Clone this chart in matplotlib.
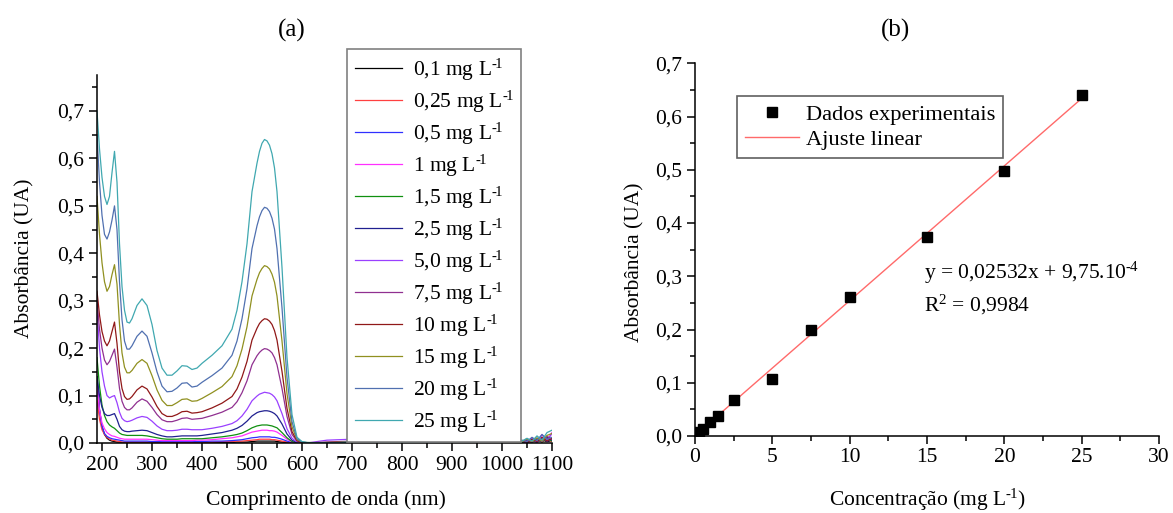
import matplotlib
matplotlib.use("Agg")
import numpy as np
import matplotlib.pyplot as plt
from matplotlib.ticker import MultipleLocator, FuncFormatter
from matplotlib.lines import Line2D

plt.rcParams['font.family'] = ['Liberation Serif', 'DejaVu Serif']
plt.rcParams['mathtext.fontset'] = 'custom'
plt.rcParams['mathtext.rm'] = 'Liberation Serif'
plt.rcParams['mathtext.it'] = 'Liberation Serif:italic'
plt.rcParams['mathtext.default'] = 'regular'

# ---------------- spectra (a) ----------------
wavelength = [190, 195, 200, 205, 210, 215, 220, 225, 230, 235, 240, 245, 250, 255, 260,
              270, 280, 290, 300, 310, 320, 330, 340, 350, 360, 370, 380, 390,
              400, 420, 440, 460, 470, 480, 490, 500, 510, 515, 520, 525, 530, 535, 540, 545, 550,
              560, 570, 580, 590, 600,
              610, 650, 700, 800, 900, 1000, 1040, 1050, 1060, 1070, 1080, 1090, 1100]

conc_labels = ["0,1", "0,25", "0,5", "1", "1,5", "2,5", "5,0", "7,5", "10", "15", "20", "25"]

abs_0_1 = [0.14, 0.07, 0.035, 0.018, 0.010, 0.006, 0.004, 0.003, 0.002, 0.002, 0.001, 0.001, 0.001, 0.001, 0.001,
           0.001, 0.001, 0.001, 0.001, 0.001, 0.001, 0.001, 0.001, 0.001, 0.001, 0.001, 0.001, 0.001,
           0.001, 0.001, 0.001, 0.001, 0.002, 0.002, 0.002, 0.003, 0.004, 0.004, 0.004, 0.004, 0.004, 0.004, 0.004, 0.004, 0.003,
           0.002, 0.001, 0.0, 0.0, 0.0,
           0.0, 0.0, 0.001, 0.0, 0.001, 0.001, 0.002, 0.001, 0.004, 0.002, 0.006, 0.003, 0.005]
abs_0_25 = [0.09, 0.05, 0.028, 0.018, 0.012, 0.008, 0.006, 0.005, 0.004, 0.003, 0.002, 0.002, 0.002, 0.002, 0.002,
            0.002, 0.002, 0.002, 0.002, 0.002, 0.002, 0.002, 0.002, 0.002, 0.002, 0.002, 0.002, 0.002,
            0.002, 0.002, 0.003, 0.003, 0.004, 0.004, 0.005, 0.006, 0.007, 0.008, 0.008, 0.008, 0.008, 0.008, 0.007, 0.007, 0.006,
            0.004, 0.002, 0.001, 0.0, 0.0,
            0.0, 0.0, 0.001, 0.0, 0.001, 0.001, 0.002, 0.004, 0.001, 0.006, 0.002, 0.008, 0.003]
abs_0_5 = [0.13, 0.07, 0.035, 0.020, 0.014, 0.011, 0.009, 0.008, 0.007, 0.006, 0.005, 0.004, 0.004, 0.004, 0.004,
           0.004, 0.004, 0.004, 0.003, 0.003, 0.003, 0.003, 0.003, 0.003, 0.003, 0.003, 0.003, 0.003,
           0.003, 0.004, 0.004, 0.005, 0.006, 0.007, 0.009, 0.011, 0.012, 0.013, 0.013, 0.013, 0.013, 0.013, 0.012, 0.012, 0.011,
           0.008, 0.004, 0.001, 0.0, 0.0,
           0.0, 0.0, 0.001, 0.001, 0.001, 0.002, 0.003, 0.002, 0.007, 0.002, 0.010, 0.004, 0.008]
abs_1 = [0.12, 0.07, 0.042, 0.030, 0.022, 0.018, 0.015, 0.014, 0.012, 0.010, 0.009, 0.008, 0.008, 0.008, 0.008,
         0.008, 0.008, 0.008, 0.007, 0.006, 0.005, 0.005, 0.005, 0.005, 0.005, 0.005, 0.005, 0.006,
         0.006, 0.007, 0.009, 0.011, 0.013, 0.015, 0.019, 0.023, 0.025, 0.026, 0.027, 0.027, 0.027, 0.026, 0.026, 0.025, 0.023,
         0.016, 0.008, 0.002, 0.0, 0.0,
         0.0, 0.001, 0.002, 0.001, 0.002, 0.002, 0.004, 0.002, 0.009, 0.003, 0.018, 0.006, 0.022]
abs_1_5 = [0.18, 0.12, 0.08, 0.058, 0.045, 0.038, 0.034, 0.031, 0.026, 0.021, 0.018, 0.017, 0.016, 0.016, 0.016,
           0.016, 0.016, 0.015, 0.013, 0.011, 0.009, 0.008, 0.008, 0.008, 0.009, 0.009, 0.009, 0.009,
           0.009, 0.011, 0.013, 0.016, 0.018, 0.021, 0.026, 0.032, 0.036, 0.037, 0.038, 0.038, 0.038, 0.037, 0.036, 0.034, 0.032,
           0.022, 0.011, 0.003, 0.001, 0.0,
           0.0, 0.001, 0.001, 0.001, 0.001, 0.002, 0.002, 0.005, 0.002, 0.007, 0.002, 0.010, 0.004]
abs_2_5 = [0.14, 0.10, 0.075, 0.062, 0.058, 0.058, 0.060, 0.062, 0.050, 0.035, 0.028, 0.025, 0.024, 0.024, 0.025,
           0.026, 0.027, 0.026, 0.022, 0.018, 0.015, 0.013, 0.013, 0.014, 0.015, 0.015, 0.015, 0.015,
           0.016, 0.019, 0.022, 0.027, 0.031, 0.037, 0.046, 0.057, 0.064, 0.066, 0.067, 0.068, 0.068, 0.067, 0.065, 0.062, 0.057,
           0.040, 0.019, 0.006, 0.001, 0.0,
           0.0, 0.001, 0.002, 0.001, 0.001, 0.002, 0.003, 0.006, 0.002, 0.009, 0.003, 0.012, 0.006]
abs_5 = [0.28, 0.20, 0.15, 0.12, 0.10, 0.095, 0.098, 0.10, 0.085, 0.065, 0.052, 0.047, 0.045, 0.046, 0.048,
         0.053, 0.056, 0.054, 0.046, 0.036, 0.029, 0.026, 0.026, 0.027, 0.029, 0.029, 0.028, 0.028,
         0.028, 0.031, 0.035, 0.041, 0.047, 0.057, 0.071, 0.089, 0.099, 0.103, 0.105, 0.107, 0.106, 0.105, 0.102, 0.097, 0.089,
         0.062, 0.030, 0.010, 0.002, 0.0,
         0.0, 0.006, 0.008, 0.006, 0.003, 0.003, 0.005, 0.003, 0.011, 0.004, 0.017, 0.005, 0.020]
abs_7_5 = [0.30, 0.24, 0.20, 0.175, 0.165, 0.172, 0.185, 0.198, 0.16, 0.115, 0.088, 0.075, 0.070, 0.070, 0.074,
           0.086, 0.093, 0.088, 0.075, 0.060, 0.049, 0.045, 0.045, 0.048, 0.052, 0.053, 0.050, 0.051,
           0.052, 0.058, 0.065, 0.075, 0.087, 0.106, 0.131, 0.165, 0.184, 0.191, 0.196, 0.199, 0.198, 0.195, 0.190, 0.180, 0.165,
           0.115, 0.056, 0.018, 0.004, 0.001,
           0.0, 0.002, 0.004, 0.003, 0.002, 0.002, 0.004, 0.007, 0.002, 0.010, 0.003, 0.014, 0.008]
abs_10 = [0.32, 0.27, 0.235, 0.215, 0.205, 0.215, 0.235, 0.255, 0.21, 0.15, 0.115, 0.098, 0.092, 0.093, 0.098,
          0.112, 0.120, 0.114, 0.097, 0.077, 0.062, 0.056, 0.056, 0.060, 0.066, 0.067, 0.063, 0.064,
          0.066, 0.074, 0.084, 0.098, 0.114, 0.139, 0.172, 0.217, 0.242, 0.252, 0.258, 0.262, 0.261, 0.257, 0.250, 0.237, 0.217,
          0.151, 0.073, 0.024, 0.005, 0.001,
          0.0, 0.001, 0.003, 0.002, 0.001, 0.003, 0.005, 0.002, 0.008, 0.003, 0.012, 0.004, 0.010]
abs_15 = [0.52, 0.44, 0.38, 0.34, 0.32, 0.33, 0.355, 0.376, 0.335, 0.25, 0.19, 0.16, 0.148, 0.148, 0.153,
          0.168, 0.176, 0.168, 0.142, 0.112, 0.090, 0.079, 0.079, 0.085, 0.092, 0.093, 0.088, 0.089,
          0.094, 0.106, 0.119, 0.140, 0.163, 0.198, 0.245, 0.310, 0.345, 0.359, 0.368, 0.374, 0.372, 0.367, 0.356, 0.339, 0.310,
          0.215, 0.104, 0.034, 0.007, 0.002,
          0.001, 0.001, 0.002, 0.001, 0.002, 0.002, 0.003, 0.009, 0.003, 0.011, 0.004, 0.016, 0.020]
abs_20 = [0.65, 0.55, 0.48, 0.44, 0.43, 0.445, 0.47, 0.50, 0.45, 0.34, 0.26, 0.215, 0.198, 0.198, 0.205,
          0.225, 0.236, 0.225, 0.19, 0.15, 0.12, 0.108, 0.109, 0.116, 0.126, 0.127, 0.118, 0.12,
          0.128, 0.142, 0.158, 0.185, 0.215, 0.262, 0.325, 0.410, 0.458, 0.477, 0.490, 0.497, 0.495, 0.488, 0.474, 0.451, 0.410,
          0.285, 0.138, 0.045, 0.009, 0.002,
          0.001, 0.0, 0.002, 0.002, 0.002, 0.003, 0.006, 0.003, 0.012, 0.005, 0.018, 0.008, 0.012]
abs_25 = [0.70, 0.62, 0.56, 0.52, 0.503, 0.52, 0.57, 0.615, 0.55, 0.42, 0.33, 0.28, 0.255, 0.253, 0.262,
          0.29, 0.304, 0.29, 0.25, 0.195, 0.158, 0.143, 0.143, 0.152, 0.163, 0.162, 0.155, 0.158,
          0.168, 0.185, 0.205, 0.240, 0.280, 0.340, 0.420, 0.530, 0.590, 0.615, 0.632, 0.640, 0.637, 0.628, 0.610, 0.580, 0.530,
          0.370, 0.180, 0.060, 0.012, 0.003,
          0.001, 0.0, 0.002, 0.001, 0.002, 0.003, 0.004, 0.010, 0.004, 0.015, 0.006, 0.022, 0.027]

spectra = [abs_0_1, abs_0_25, abs_0_5, abs_1, abs_1_5, abs_2_5,
           abs_5, abs_7_5, abs_10, abs_15, abs_20, abs_25]
colors = ["#000000", "#ff4040", "#3030ff", "#ff30ff", "#109010", "#202090",
          "#9a40ff", "#903090", "#901818", "#909020", "#5070b0", "#40a8b0"]

# ---------------- calibration (b) ----------------
conc = [0.1, 0.25, 0.5, 1.0, 1.5, 2.5, 5.0, 7.5, 10.0, 15.0, 20.0, 25.0]
absorb = [0.004, 0.008, 0.013, 0.027, 0.038, 0.068, 0.107, 0.199, 0.262, 0.374, 0.497, 0.640]
slope = 0.02532
intercept = 9.75e-4

W, H = 1173, 513
fig = plt.figure(figsize=(W / 100, H / 100), dpi=100)


def rect(x0, y0, x1, y1):
    return [x0 / W, 1 - y1 / H, (x1 - x0) / W, (y1 - y0) / H]


comma = FuncFormatter(lambda v, p: f"{v:.1f}".replace(".", ","))
FS = 15.5
HY = "\u2010"                      # short hyphen used in the superscripts
SUP = "$^{" + HY + "\\!1}$"


def style(ax):
    for s in ("top", "right"):
        ax.spines[s].set_visible(False)
    for s in ("left", "bottom"):
        ax.spines[s].set_linewidth(1.1)
    ax.tick_params(which="major", direction="out", length=6, width=1.1,
                   labelsize=FS, pad=3)
    ax.tick_params(which="minor", direction="out", length=3.5, width=1.1)


# (a) spectra
axa = fig.add_axes(rect(97, 75, 552, 443))
for vals, col, lab in zip(spectra, colors, conc_labels):
    axa.plot(wavelength, vals, color=col, lw=0.9, label=lab + " mg L" + SUP)
axa.set_xlim(190, 1100)
axa.set_ylim(0, 0.776)
axa.xaxis.set_major_locator(MultipleLocator(100))
axa.xaxis.set_minor_locator(MultipleLocator(50))
axa.yaxis.set_major_locator(MultipleLocator(0.1))
axa.yaxis.set_minor_locator(MultipleLocator(0.05))
axa.yaxis.set_major_formatter(comma)
style(axa)
leg_a = axa.legend(loc="upper left", bbox_to_anchor=(347 / W, 1 - 49 / H),
                   bbox_transform=fig.transFigure, borderaxespad=0, fontsize=FS,
                   frameon=True, fancybox=False, edgecolor="#808080", framealpha=1,
                   handlelength=2.2, handletextpad=0.5, labelspacing=0.27,
                   borderpad=0.35)
leg_a.get_frame().set_linewidth(1.2)

fig.text(292 / W, 1 - 30 / H, "(a)", fontsize=18, ha="center", va="center")
fig.text(25 / W, 1 - 258 / H, "Absorbância (UA)", fontsize=FS, rotation=90,
         ha="center", va="center")
fig.text(326 / W, 1 - 500 / H, "Comprimento de onda (nm)", fontsize=FS,
         ha="center", va="center")

# (b) calibration curve
axb = fig.add_axes(rect(695, 63.3, 1159, 436))
fit_x = np.array([0.0, 25.0])
axb.plot(fit_x, slope * fit_x + intercept, color="#ff6a6a", lw=1.0)
axb.plot(conc, absorb, ls="none", marker="s", ms=6.5, color="black")
axb.set_xlim(0, 30)
axb.set_ylim(0, 0.7)
axb.xaxis.set_major_locator(MultipleLocator(5))
axb.xaxis.set_minor_locator(MultipleLocator(2.5))
axb.yaxis.set_major_locator(MultipleLocator(0.1))
axb.yaxis.set_minor_locator(MultipleLocator(0.05))
axb.yaxis.set_major_formatter(comma)
style(axb)
handles = [Line2D([], [], ls="none", marker="s", ms=6.5, color="black"),
           Line2D([], [], color="#ff6a6a", lw=1.0)]
leg_b = axb.legend(handles, ["Dados experimentais", "Ajuste linear"],
                   loc="upper left", bbox_to_anchor=(737 / W, 1 - 96 / H),
                   bbox_transform=fig.transFigure, borderaxespad=0, fontsize=16.2,
                   frameon=True, fancybox=False, edgecolor="#606060", framealpha=1,
                   handlelength=2.4, handletextpad=0.3, labelspacing=0.22,
                   borderpad=0.35)
leg_b.get_frame().set_linewidth(1.2)

fig.text(924 / W, 1 - 273 / H, "y = 0,02532x + 9,75.10$^{" + HY + "\\!4}$",
         fontsize=FS, ha="left", va="center")
fig.text(924 / W, 1 - 305 / H, "R$^{2}$ = 0,9984", fontsize=FS,
         ha="left", va="center")
fig.text(895 / W, 1 - 30 / H, "(b)", fontsize=18, ha="center", va="center")
fig.text(635 / W, 1 - 262 / H, "Absorbância (UA)", fontsize=FS, rotation=90,
         ha="center", va="center")
fig.text(927 / W, 1 - 500 / H, "Concentração (mg L" + SUP + ")", fontsize=FS,
         ha="center", va="center")

fig.savefig("out.png", dpi=100)
